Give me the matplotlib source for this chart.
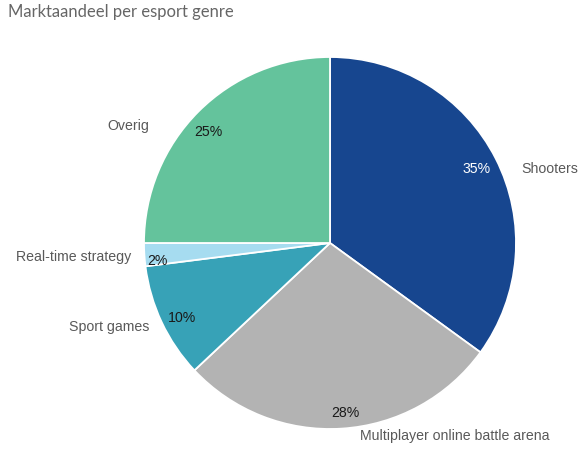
import matplotlib
matplotlib.use("Agg")
from matplotlib import pyplot as plt

# data
genres = ["Shooters", "Multiplayer online battle arena", "Sport games",
          "Real-time strategy", "Overig"]
shares = [35, 28, 10, 2, 25]
pct_labels = ["35%", "28%", "10%", "2%", "25%"]

colors = ["#17468f", "#b3b3b3", "#37a2b7", "#a6dcf0", "#64c39c"]
pct_colors = ["white", "#1a1a1a", "#1a1a1a", "#1a1a1a", "#1a1a1a"]
# label anchor offsets (data units, pie radius = 1)
label_pos = [(1.03, 0.40, "left"), (0.16, -1.04, "left"), (-0.97, -0.45, "right"),
             (-1.07, -0.075, "right"), (-0.97, 0.63, "right")]
pct_pos = [(0.79, 0.40), (0.08, -0.915), (-0.797, -0.403), (-0.927, -0.095),
           (-0.656, 0.595)]

plt.rcParams['font.family'] = ['Liberation Sans', 'DejaVu Sans']

fig = plt.figure(figsize=(5.8, 4.49), dpi=100)
cx, cy, r = 330 / 580, (449 - 243) / 449, 186
ax = fig.add_axes([cx - r / 580, cy - r / 449, 2 * r / 580, 2 * r / 449])

wedges, texts, autotexts = ax.pie(
    shares, colors=colors, startangle=90, counterclock=False,
    labels=genres, labeldistance=1.1, autopct="%d%%", pctdistance=0.89,
    wedgeprops=dict(edgecolor="white", linewidth=1.3),
    textprops=dict(fontsize=10.2))

for t, (x, y, ha) in zip(texts, label_pos):
    t.set_position((x, y))
    t.set_ha(ha)
    t.set_va("center")
    t.set_color("#595959")

for t, lab, c, p in zip(autotexts, pct_labels, pct_colors, pct_pos):
    t.set_text(lab)
    t.set_color(c)
    t.set_position(p)

ax.set_xlim(-1, 1)
ax.set_ylim(-1, 1)
ax.set_aspect("equal")

fig.text(8 / 580, 1 - 12 / 449, "Marktaandeel per esport genre", fontsize=12,
         color="#666666", family=["Lato", "DejaVu Sans"], va="center", ha="left")

fig.savefig("out.png", dpi=100)
